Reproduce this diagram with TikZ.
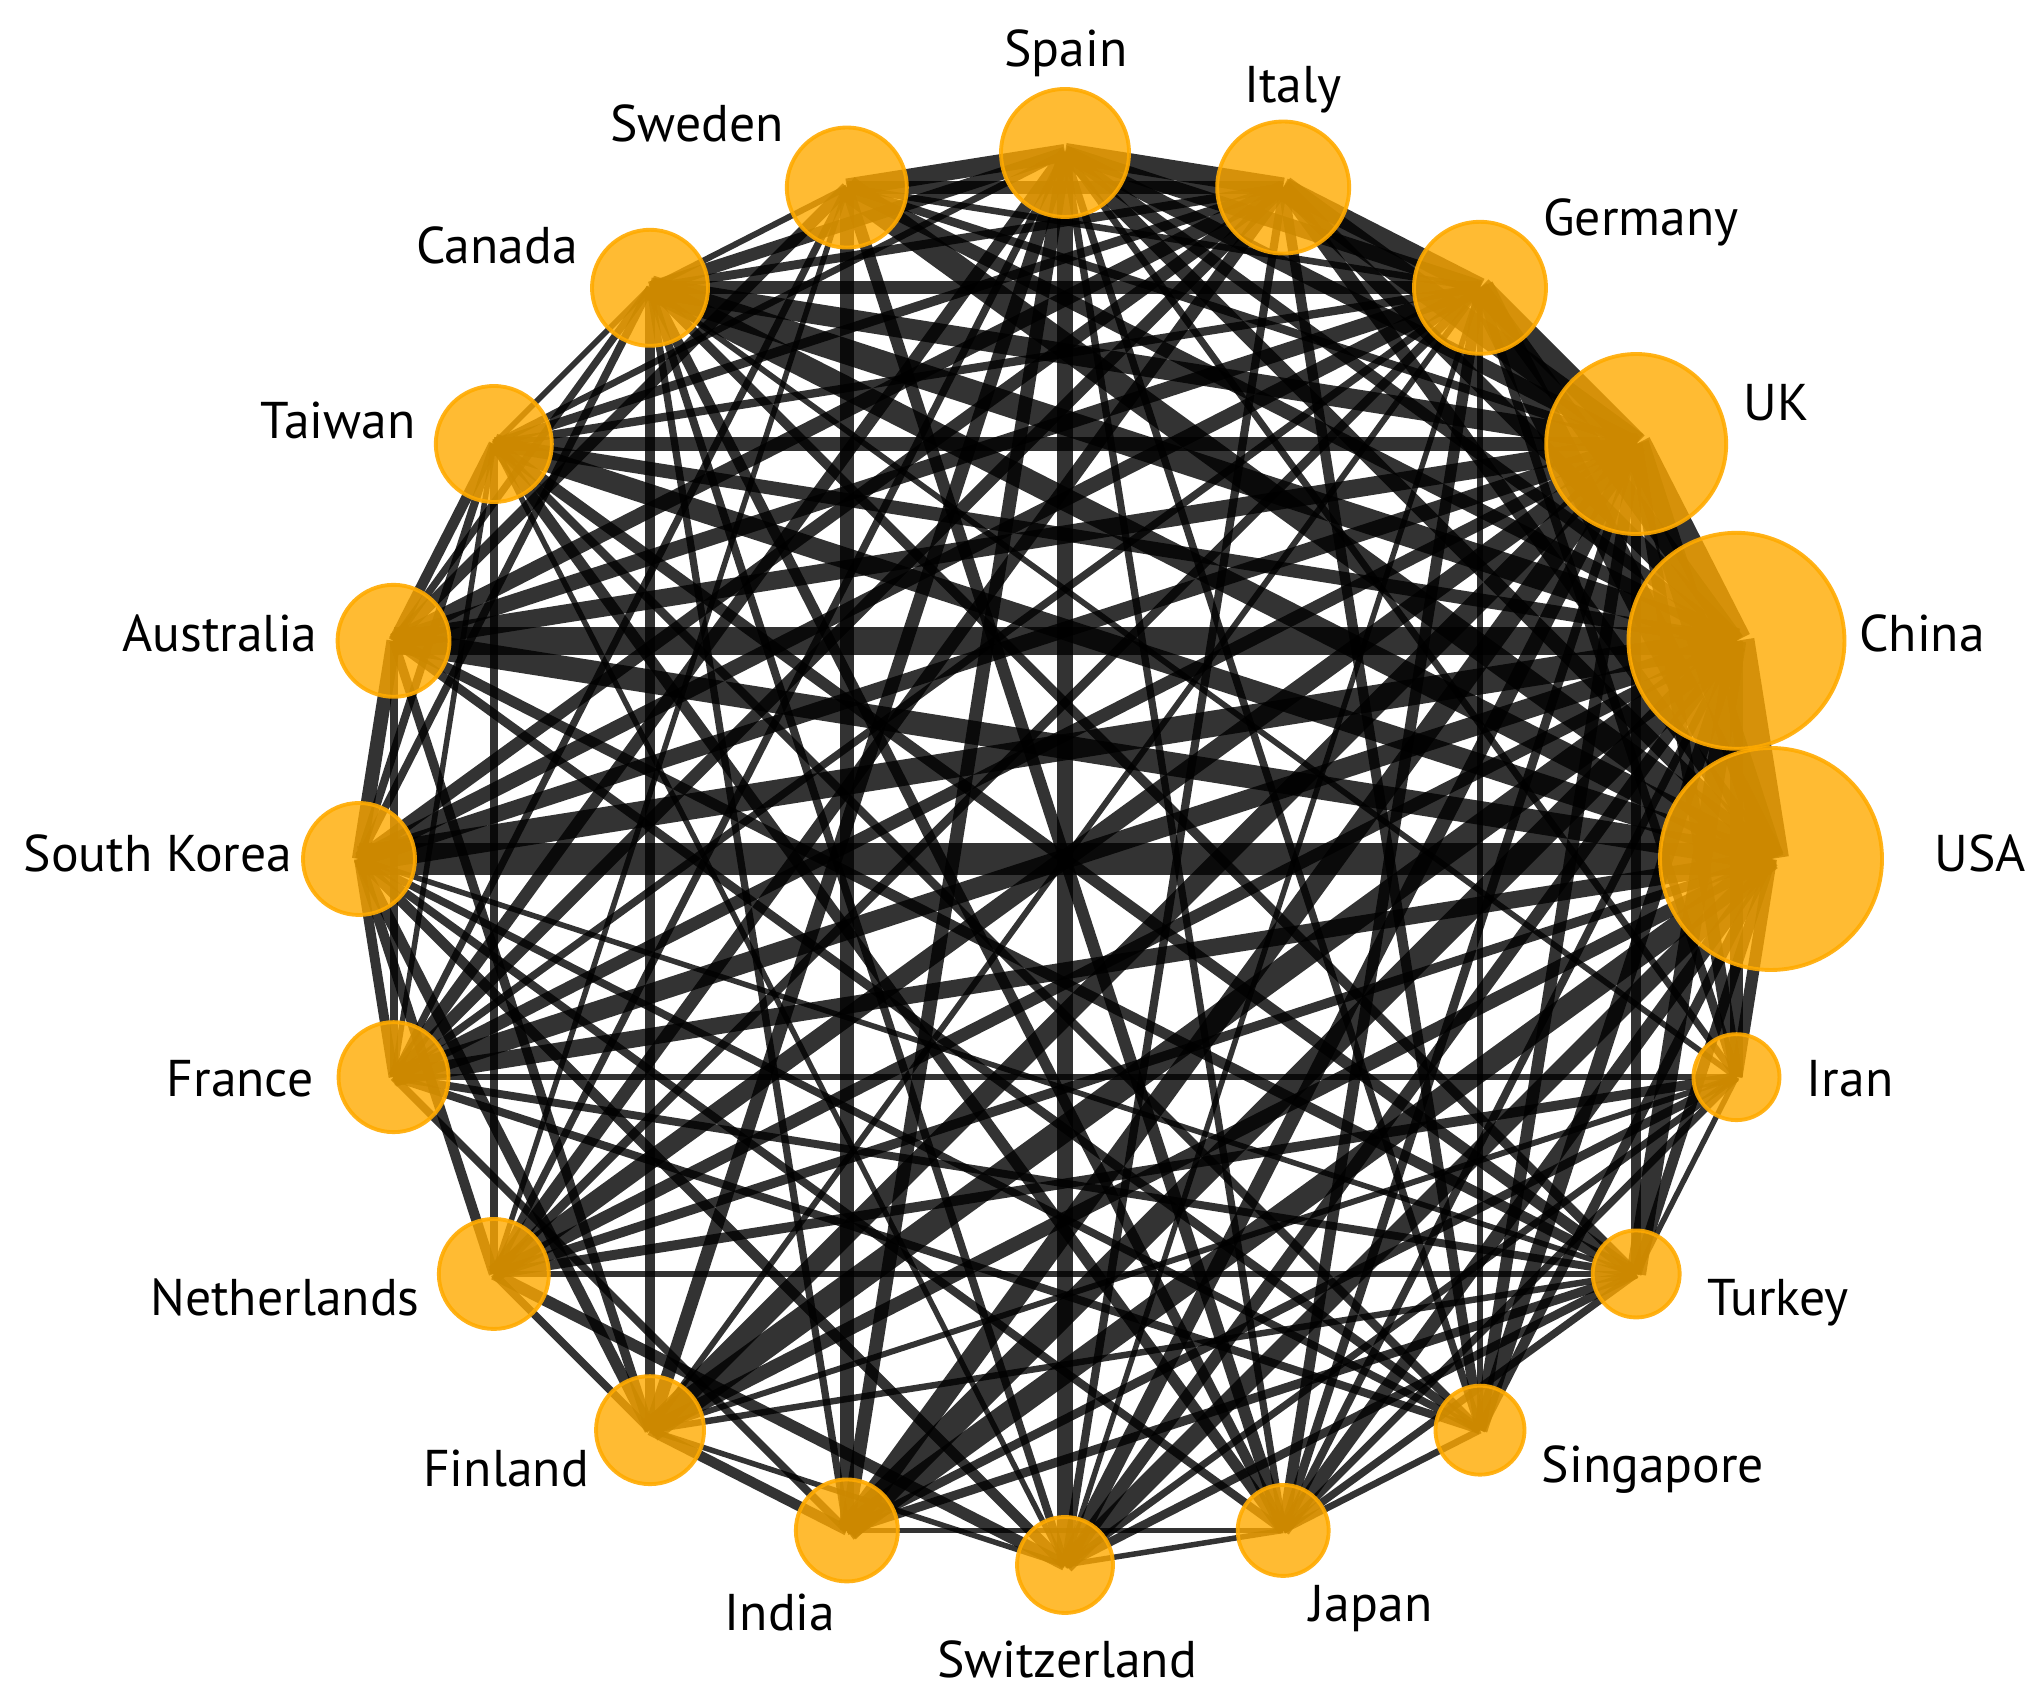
\documentclass[tikz,border=0pt]{standalone}
\usepackage{fontspec}
\setmainfont{PT Sans}
\usetikzlibrary{backgrounds}

\definecolor{amber}{RGB}{255,170,0}

\tikzset{
  country/.style={circle, draw=amber, draw opacity=0.9, line width=1.1pt,
    fill=amber, fill opacity=0.8, inner sep=0pt},
  tie/.style={black, opacity=0.8},
  tag/.style={font=\fontsize{14.7}{17}\selectfont, text height=1.5ex, text depth=.25ex,
    inner sep=0pt, yshift=-0.06cm},
}

% name / angle / radius (px)
\def\countries{spain/90/64, italy/72/66, germany/54/66, uk/36/90, china/18/108,
  usa/0/111, iran/-18/43, turkey/-36/43.5, singapore/-54/44.5, japan/-72/45.5,
  switzerland/-90/48, india/-108/51, finland/-126/54, netherlands/-144/55,
  france/-162/55, korea/180/56, australia/162/56, taiwan/144/58, canada/126/58,
  sweden/108/60}

\begin{document}
\begin{tikzpicture}
  \useasboundingbox (0,0) rectangle (20.41,17.04);
  \coordinate (hub) at (10.65,8.45);

  % countries on the ring
  \foreach \n/\ang/\r in \countries {
    \pgfmathsetmacro\d{\r/50}
    \node[country, minimum size=\d cm] (\n) at ([shift={(\ang:7.06)}]hub) {};
  }

  % strong links, width in px
  \foreach \a/\b/\w in {korea/usa/32, australia/china/28, china/usa/36, uk/china/30,
      uk/usa/26, germany/uk/24, italy/germany/20, spain/italy/20, sweden/spain/18,
      spain/switzerland/16, sweden/india/14, canada/germany/13, taiwan/uk/14,
      singapore/china/15, canada/finland/10, france/iran/6, australia/france/8,
      iran/usa/12} {
    \expandafter\xdef\csname tie@\a @\b\endcsname{\w}
    \expandafter\xdef\csname tie@\b @\a\endcsname{\w}
  }

  % all other links
  \pgfmathsetseed{11}
  \begin{scope}[on background layer]
    \foreach \a/\aa/\ra [count=\i] in \countries {
      \foreach \b/\bb/\rb [count=\j] in \countries {
        \ifnum\j>\i
          \ifcsname tie@\a @\b\endcsname
            \edef\w{\csname tie@\a @\b\endcsname}
            \def\keep{1}
          \else
            \pgfmathsetmacro\w{max(5.5,min(28,\ra*\rb/290*(0.45+0.9*rnd)))}
            \pgfmathtruncatemacro\keep{(\ra*\rb>=3600)||(rnd>0.42)}
          \fi
          \ifnum\keep=1
            \draw[tie, line width=\w*0.01cm] (\a.center) -- (\b.center);
          \fi
        \fi
      }
    }
  \end{scope}

  % labels
  \node[tag] (spain-tag) at (10.66,16.54) {Spain};
  \node[tag] (italy-tag) at (12.93,16.18) {Italy};
  \node[tag] (germany-tag) at (16.41,14.85) {Germany};
  \node[tag] (uk-tag) at (17.76,13.00) {UK};
  \node[tag] (china-tag) at (19.22,10.69) {China};
  \node[tag] (usa-tag) at (19.80,8.49) {USA};
  \node[tag] (iran-tag) at (18.50,6.24) {Iran};
  \node[tag] (turkey-tag) at (17.78,4.05) {Turkey};
  \node[tag] (singapore-tag) at (16.53,2.38) {Singapore};
  \node[tag] (japan-tag) at (13.71,0.99) {Japan};
  \node[tag] (switzerland-tag) at (10.67,0.43) {Switzerland};
  \node[tag] (india-tag) at (7.80,0.90) {India};
  \node[tag] (finland-tag) at (5.06,2.34) {Finland};
  \node[tag] (netherlands-tag) at (2.85,4.05) {Netherlands};
  \node[tag] (france-tag) at (2.40,6.24) {France};
  \node[tag] (korea-tag) at (1.58,8.49) {South Korea};
  \node[tag] (australia-tag) at (2.20,10.69) {Australia};
  \node[tag] (taiwan-tag) at (3.38,12.82) {Taiwan};
  \node[tag] (canada-tag) at (4.97,14.57) {Canada};
  \node[tag] (sweden-tag) at (6.97,15.79) {Sweden};
\end{tikzpicture}
\end{document}
